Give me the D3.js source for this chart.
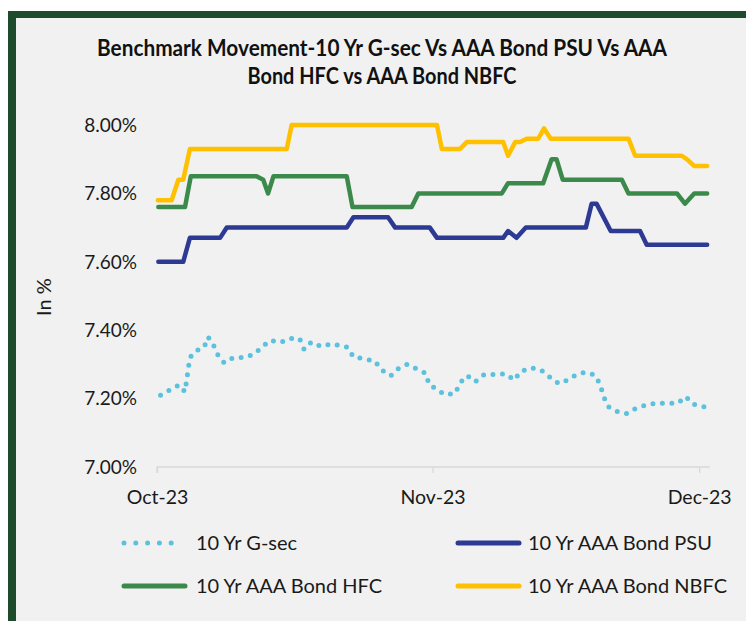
<!DOCTYPE html>
<html>
<head>
<meta charset="utf-8">
<title>Benchmark Movement</title>
<script src="https://cdn.jsdelivr.net/npm/d3@7"></script>
<style>
	body { margin: 0; background: #fff; }
	text { font-family: Lato, "Open Sans", sans-serif; fill: #1a1a1a; }
</style>
</head>
<body>
<script>

	// day number counted from 1 Oct 2023, value in %
	var monthTicks = [0, 31, 61];
	var monthLabels = ["Oct-23", "Nov-23", "Dec-23"];
	var yTicks = [7.0, 7.2, 7.4, 7.6, 7.8, 8.0];

	var titleLines = ["Benchmark Movement-10 Yr G-sec Vs AAA Bond PSU Vs AAA", "Bond HFC vs AAA Bond NBFC"];
	var titleWidths = [570, 269];
	var seriesNames = ["10 Yr G-sec", "10 Yr AAA Bond PSU", "10 Yr AAA Bond HFC", "10 Yr AAA Bond NBFC"];
	var seriesColors = ["#5BC1DC", "#2D3A94", "#3B8A4B", "#FFC000"];

	var gsec = [
		[0.4, 7.21], [2.5, 7.24], [3.15, 7.22], [3.7, 7.32], [4.4, 7.34], [5.3, 7.35], [5.75, 7.38],
		[6.3, 7.36], [6.8, 7.33], [7.55, 7.305], [8.6, 7.32], [9.8, 7.32], [10.9, 7.33], [11.8, 7.35],
		[12.7, 7.37], [13.95, 7.365], [15.05, 7.376], [16.05, 7.375], [16.55, 7.344], [17.35, 7.365],
		[18.5, 7.352], [19.6, 7.36], [21.45, 7.35], [22.1, 7.322], [24.5, 7.31], [25.3, 7.283],
		[26.3, 7.267], [27.1, 7.287], [28.15, 7.30], [29.2, 7.287], [30.25, 7.274], [30.6, 7.242],
		[31.3, 7.23], [32.35, 7.212], [33.55, 7.215], [34.1, 7.246], [34.9, 7.267], [35.8, 7.249],
		[36.8, 7.27], [39.3, 7.272], [40.2, 7.254], [40.9, 7.279], [42.05, 7.29], [43.2, 7.284],
		[44.2, 7.263], [45.2, 7.244], [46.0, 7.252], [47.0, 7.267], [48.1, 7.277], [49.2, 7.27],
		[49.85, 7.243], [50.2, 7.21], [50.7, 7.178], [51.7, 7.163], [52.85, 7.156], [53.8, 7.17],
		[54.9, 7.18], [56.1, 7.187], [58.55, 7.186], [59.5, 7.206], [60.3, 7.184], [61.75, 7.175]
	];

	var psu = [
		[0.15, 7.60], [2.95, 7.60], [3.7, 7.67], [7.1, 7.67], [7.85, 7.70], [21.35, 7.70], [22.1, 7.73],
		[26.0, 7.73], [26.8, 7.70], [30.7, 7.70], [31.5, 7.67], [38.95, 7.67], [39.5, 7.69], [40.45, 7.67],
		[41.5, 7.70], [48.25, 7.70], [48.9, 7.77], [49.45, 7.77], [51.05, 7.69], [54.35, 7.69],
		[55.1, 7.65], [61.9, 7.65]
	];

	var hfc = [
		[0.15, 7.76], [3.15, 7.76], [3.8, 7.85], [11.2, 7.85], [11.95, 7.84], [12.5, 7.80], [13.1, 7.85],
		[21.35, 7.85], [22.0, 7.76], [28.65, 7.76], [29.4, 7.80], [38.8, 7.80], [39.5, 7.83],
		[43.45, 7.83], [44.4, 7.90], [44.95, 7.90], [45.65, 7.84], [52.3, 7.84], [53.05, 7.80],
		[58.5, 7.80], [59.4, 7.77], [60.45, 7.80], [61.9, 7.80]
	];

	var nbfc = [
		[0.1, 7.78], [1.65, 7.78], [2.4, 7.84], [2.95, 7.84], [3.7, 7.93], [14.6, 7.93], [15.15, 8.00],
		[31.5, 8.00], [32.05, 7.93], [34.1, 7.93], [34.85, 7.95], [38.95, 7.95], [39.5, 7.91],
		[40.3, 7.95], [40.85, 7.95], [41.6, 7.96], [42.9, 7.96], [43.55, 7.99], [44.3, 7.96],
		[53.05, 7.96], [53.8, 7.91], [59.05, 7.91], [59.6, 7.90], [60.45, 7.88], [61.9, 7.88]
	];

	var allSeries = [gsec, psu, hfc, nbfc];

	var width = 746, height = 621;
	var plot = { left: 157, right: 710, top: 125, bottom: 467 };

	var svg = d3.select("body").append("svg")
		.attr("width", width)
		.attr("height", height);

	// frame
	svg.append("rect").attr("x", 8).attr("y", 11).attr("width", width).attr("height", height)
		.attr("fill", "#1E4B2C");
	svg.append("rect").attr("x", 16).attr("y", 18).attr("width", width).attr("height", height)
		.attr("fill", "#F1F1F1");

	var x = d3.scaleLinear().domain([0, 62.22]).range([plot.left, plot.right]);
	var y = d3.scaleLinear().domain([7, 8]).range([plot.bottom, plot.top]);

	// title
	svg.selectAll(".title").data(titleLines).enter().append("text")
		.attr("class", "title")
		.attr("x", 382)
		.attr("y", function (d, i) { return 56 + i * 28; })
		.attr("text-anchor", "middle")
		.attr("textLength", function (d, i) { return titleWidths[i]; })
		.attr("lengthAdjust", "spacingAndGlyphs")
		.style("font-weight", "bold")
		.style("font-size", "22px")
		.style("fill", "#111")
		.text(function (d) { return d; });

	// y axis labels (no axis line)
	svg.selectAll(".ylab").data(yTicks).enter().append("text")
		.attr("class", "ylab")
		.attr("x", 137)
		.attr("y", function (d) { return y(d); })
		.attr("dy", "0.36em")
		.attr("text-anchor", "end")
		.style("font-size", "19px")
		.text(function (d) { return d3.format(".2f")(d) + "%"; });

	svg.append("text")
		.attr("transform", "translate(51,297) rotate(-90)")
		.attr("text-anchor", "middle")
		.style("font-size", "20px")
		.text("In %");

	// x axis
	var xAxis = d3.axisBottom(x)
		.tickValues(monthTicks)
		.tickSize(6)
		.tickFormat(function (d, i) { return monthLabels[i]; });

	var gx = svg.append("g")
		.attr("transform", "translate(0," + plot.bottom + ")")
		.call(xAxis);
	gx.select(".domain").attr("stroke", "#D9D9D9").attr("stroke-width", 1.3)
		.attr("d", "M" + plot.left + ",6V0H" + plot.right);
	gx.selectAll(".tick line").attr("stroke", "#D9D9D9").attr("stroke-width", 1.3);
	gx.selectAll(".tick text")
		.attr("y", 30)
		.attr("dy", "0.36em")
		.style("font-family", "Lato, 'Open Sans', sans-serif")
		.style("font-size", "19.5px")
		.style("fill", "#1a1a1a");

	// lines
	var line = d3.line()
		.x(function (d) { return x(d[0]); })
		.y(function (d) { return y(d[1]); });

	svg.selectAll(".series").data(allSeries).enter().append("path")
		.attr("class", "series")
		.attr("d", line)
		.attr("fill", "none")
		.attr("stroke", function (d, i) { return seriesColors[i]; })
		.attr("stroke-width", function (d, i) { return i === 0 ? 5 : 4.5; })
		.attr("stroke-linecap", "round")
		.attr("stroke-linejoin", "round")
		.attr("stroke-dasharray", function (d, i) { return i === 0 ? "0 9.5" : null; });

	// legend, two columns
	var legend = svg.selectAll(".legend").data(seriesNames).enter().append("g")
		.attr("class", "legend")
		.attr("transform", function (d, i) {
			return "translate(" + (i % 2 === 0 ? 124 : 458) + "," + (543 + Math.floor(i / 2) * 43) + ")";
		});

	legend.append("line")
		.attr("x1", 0).attr("x2", function (d, i) { return i === 0 ? 59 : 61; })
		.attr("stroke", function (d, i) { return seriesColors[i]; })
		.attr("stroke-width", 5)
		.attr("stroke-linecap", "round")
		.attr("stroke-dasharray", function (d, i) { return i === 0 ? "0 11.8" : null; });

	legend.append("text")
		.attr("x", function (d, i) { return i % 2 === 0 ? 72 : 70; })
		.attr("dy", "0.36em")
		.style("font-size", "20px")
		.text(function (d) { return d; });

</script>
</body>
</html>
